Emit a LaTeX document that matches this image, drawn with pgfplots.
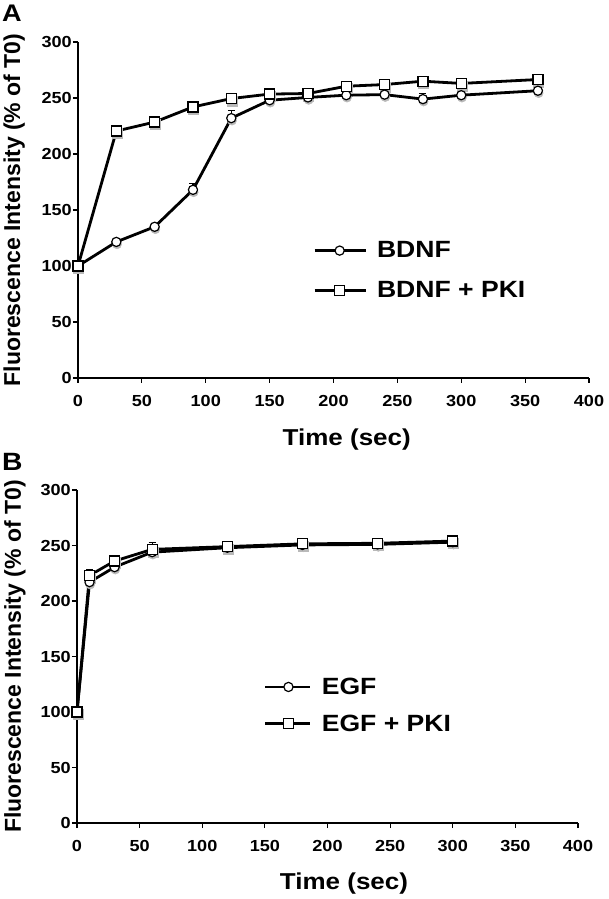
\documentclass[border=0pt]{standalone}
\usepackage{fontspec}
\setmainfont{Liberation Sans}[FakeStretch=1.13]
\newfontfamily\plainsans{Liberation Sans}
\usepackage{pgfplots}
\usepackage{pgfplotstable}
\pgfplotsset{compat=1.18}

% time (sec), mean (% of T0), error
\pgfplotstableread{
t m e
0 100 0
30 121.5 2
60 135 3
90 168 6
120 232 7
150 248 2
180 250.5 2
210 252.5 2
240 253 2
270 249 5
300 252.5 2
360 256.5 2
}\bdnf
\pgfplotstableread{
t m e
0 100 0
30 220.5 2
60 228.5 2
90 242 2
120 249.5 2
150 253.5 2
180 254 2
210 260.5 2
240 262 2
270 265 2
300 263 2
360 266.5 2
}\bdnfpki
\pgfplotstableread{
t m e
0 100 0
10 217 5
30 230.5 3
60 244 3
120 248 2
180 250.5 2
240 251 2
300 253 2
}\egf
\pgfplotstableread{
t m e
0 100 0
10 223 5
30 236 4
60 246.5 6
120 249 2
180 251.5 2
240 252 2
300 254 2
}\egfpki

\pgfplotsset{
  panel/.style={
    scale only axis,
    axis lines=left,
    axis line style={-, line width=2.4pt},
    xmin=0, xmax=400, ymin=0, ymax=300,
    xtick={0,50,...,400}, ytick={0,50,...,300},
    tick align=outside,
    major tick length=5pt,
    every tick/.style={black, line width=1.2pt},
    /pgf/number format/assume math mode=true,
    tick label style={font=\fontsize{16}{16}\selectfont\bfseries},
    yticklabel style={inner sep=0pt, xshift=-1pt},
    xticklabel style={inner sep=0pt, yshift=-12pt},
    xlabel style={font=\fontsize{23}{24}\selectfont\bfseries, anchor=center},
    ylabel style={font=\fontsize{23}{24}\selectfont\plainsans\bfseries, anchor=center},
    legend style={draw=none, fill=none, anchor=north west, inner sep=0pt,
      font=\fontsize{23.5}{24}\selectfont\bfseries, column sep=10pt,
      nodes={inner sep=0pt}},
    legend cell align=left,
    clip=false,
  },
  series/.style={black, line width=2.8pt,
    mark options={solid, fill=white, line width=1.2pt},
    error bars/y dir=plus, error bars/y explicit,
    error bars/error bar style={line width=1.2pt},
    error bars/error mark options={rotate=90, mark size=3.5pt, line width=1.2pt, black}},
  shadow/.style={forget plot, only marks, draw=gray!55, fill=gray!55,
    mark options={xshift=0.7pt, yshift=-2.4pt}},
}

\begin{document}
\begin{tikzpicture}
\useasboundingbox (0,0) rectangle (608pt,899pt);

\node[anchor=north west, inner sep=0pt, font=\fontsize{24}{24}\selectfont\bfseries] at (2pt,894pt) {A};
\node[anchor=north west, inner sep=0pt, font=\fontsize{25}{25}\selectfont\bfseries] at (2pt,446pt) {B};

\begin{axis}[panel,
  at={(78pt,521pt)}, anchor=south west,
  width=511pt, height=336pt,
  xlabel={Time (sec)},
  ylabel={Fluorescence Intensity (\% of T0)},
  every axis x label/.append style={at={(axis description cs:0.526,-0.1845)}},
  every axis y label/.append style={at={(axis description cs:-0.125,0.5)}},
  legend style={at={(0.46,0.406)}, row sep=22pt},
  legend image code/.code={\draw[mark repeat=2,mark phase=2,#1] plot coordinates {(0pt,0pt) (25pt,0pt) (51pt,0pt)};},
]
\addplot[shadow, mark=*, mark size=4.6pt] table[x=t, y=m] {\bdnf};
\addplot[shadow, mark=square*, mark size=5pt] table[x=t, y=m] {\bdnfpki};
\addplot[series, mark=*, mark size=4.6pt] table[x=t, y=m, y error=e] {\bdnf};
\addplot[series, mark=square*, mark size=5pt] table[x=t, y=m, y error=e] {\bdnfpki};
\legend{BDNF, BDNF + PKI}
\end{axis}

\begin{axis}[panel,
  at={(77pt,76pt)}, anchor=south west,
  width=501pt, height=333pt,
  xlabel={Time (sec)},
  ylabel={Fluorescence Intensity (\% of T0)},
  every axis x label/.append style={at={(axis description cs:0.533,-0.183)}},
  every axis y label/.append style={at={(axis description cs:-0.124,0.5)}},
  legend style={at={(0.373,0.436)}, row sep=19pt},
  legend image code/.code={\draw[mark repeat=2,mark phase=2,#1] plot coordinates {(0pt,0pt) (23pt,0pt) (45pt,0pt)};},
]
\addplot[shadow, mark=*, mark size=4.6pt] table[x=t, y=m] {\egf};
\addplot[shadow, mark=square*, mark size=5pt] table[x=t, y=m] {\egfpki};
\addplot[series, mark=*, mark size=4.6pt] table[x=t, y=m, y error=e] {\egf};
\addplot[series, mark=square*, mark size=5pt] table[x=t, y=m, y error=e] {\egfpki};
\legend{EGF, EGF + PKI}
\end{axis}
\end{tikzpicture}
\end{document}
